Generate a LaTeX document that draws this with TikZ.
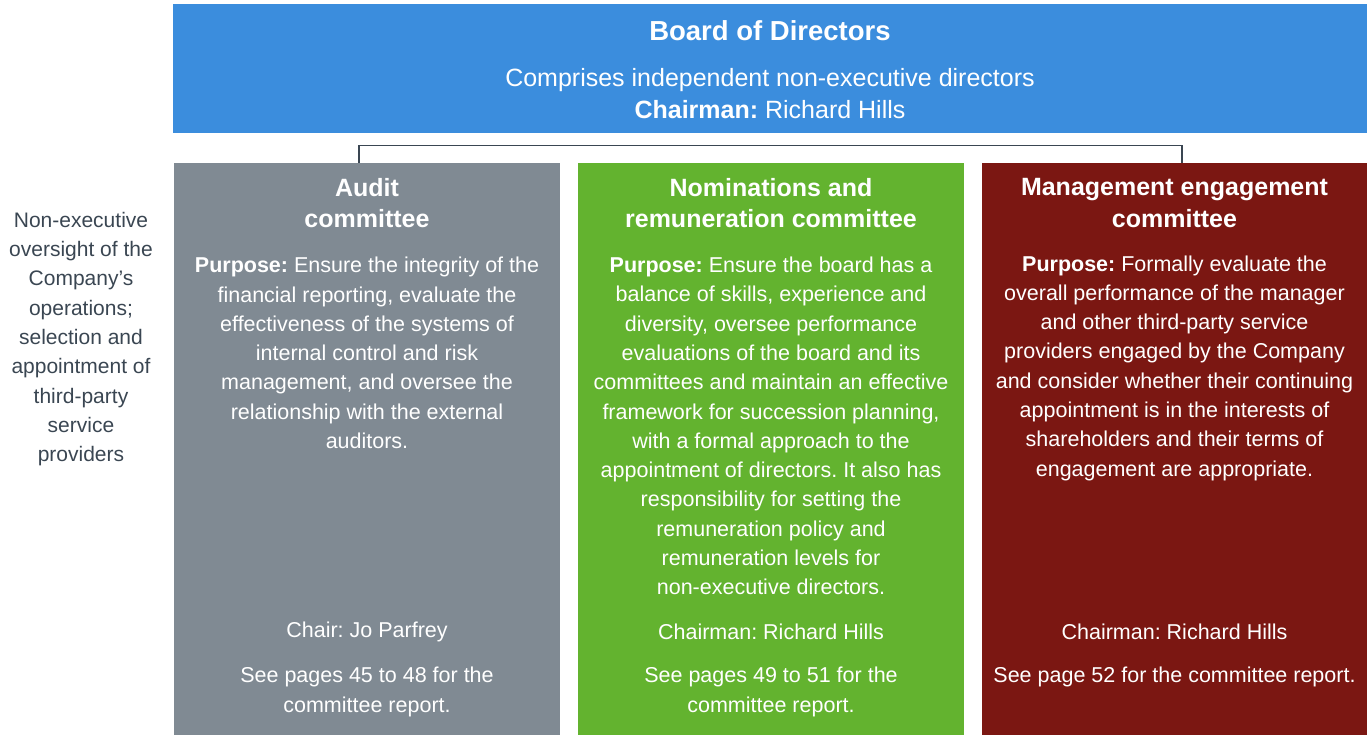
\documentclass[tikz,border=0pt]{standalone}
\usepackage{fontspec}
\setmainfont{Liberation Sans}
\frenchspacing
\definecolor{boardblue}{HTML}{3B8DDD}
\definecolor{auditgray}{HTML}{808A93}
\definecolor{nomgreen}{HTML}{63B32F}
\definecolor{mgmtred}{HTML}{7B1712}
\definecolor{slate}{HTML}{3A4652}
\begin{document}
\begin{tikzpicture}[x=1pt,y=-1pt,
  box/.style={draw=none, inner sep=0pt, minimum width=386pt, minimum height=572pt},
  wtxt/.style={text=white, align=center, inner sep=0pt},
  bodyf/.style={font=\fontsize{21.5}{29.3}\selectfont},
  titlef/.style={font=\bfseries\fontsize{25}{31.5}\selectfont},
  conn/.style={draw=slate, line width=1.3pt}]
\useasboundingbox (0,0) rectangle (1367,735);
% board
\node[draw=none, fill=boardblue, inner sep=0pt, minimum width=1194pt, minimum height=129pt] (board) at (770,68.5) {};
\node[wtxt, font=\bfseries\fontsize{27.5}{32}\selectfont] (boardtitle) at (770,31) {Board of Directors};
\node[wtxt, font=\fontsize{25}{32}\selectfont] (boardsub) at (770,94) {Comprises independent non-executive directors\\\textbf{Chairman:} Richard Hills};
% committee boxes
\node[box, fill=auditgray] (audit) at (367,449) {};
\node[box, fill=nomgreen] (nom) at (771,449) {};
\node[box, fill=mgmtred, minimum width=385pt] (mgmt) at (1174.5,449) {};
% connector
\draw[conn] ([xshift=-8pt]audit.north) -- ++(0,-17) -| ([xshift=7.5pt]mgmt.north);
% audit
\node[wtxt, titlef] (audittitle) at (367,203) {Audit\\committee};
\node[wtxt, bodyf] (auditpurpose) at (367,353) {\textbf{Purpose:} Ensure the integrity of the\\financial reporting, evaluate the\\effectiveness of the systems of\\internal control and risk\\management, and oversee the\\relationship with the external\\auditors.};
\node[wtxt, bodyf] (auditchair) at (367,632) {Chair: Jo Parfrey};
\node[wtxt, bodyf] (auditsee) at (367,692) {See pages 45 to 48 for the\\committee report.};
% nominations
\node[wtxt, titlef] (nomtitle) at (771,203) {Nominations and\\remuneration committee};
\node[wtxt, bodyf] (nompurpose) at (771,426) {\textbf{Purpose:} Ensure the board has a\\balance of skills, experience and\\diversity, oversee performance\\evaluations of the board and its\\committees and maintain an effective\\framework for succession planning,\\with a formal approach to the\\appointment of directors. It also has\\responsibility for setting the\\remuneration policy and\\remuneration levels for\\non-executive directors.};
\node[wtxt, bodyf] (nomchair) at (771,632) {Chairman: Richard Hills};
\node[wtxt, bodyf] (nomsee) at (771,692) {See pages 49 to 51 for the\\committee report.};
% management
\node[wtxt, titlef] (mgmttitle) at (1174.5,203) {Management engagement\\committee};
\node[wtxt, bodyf] (mgmtpurpose) at (1174.5,368) {\textbf{Purpose:} Formally evaluate the\\overall performance of the manager\\and other third-party service\\providers engaged by the Company\\and consider whether their continuing\\appointment is in the interests of\\shareholders and their terms of\\engagement are appropriate.};
\node[wtxt, bodyf] (mgmtchair) at (1174.5,632) {Chairman: Richard Hills};
\node[wtxt, bodyf] (mgmtsee) at (1174.5,677) {See page 52 for the committee report.};
% left note
\node[text=slate, align=center, inner sep=0pt, font=\fontsize{21}{29.3}\selectfont] (note) at (81,339) {Non-executive\\oversight of the\\Company’s\\operations;\\selection and\\appointment of\\third-party\\service\\providers};
\end{tikzpicture}
\end{document}
